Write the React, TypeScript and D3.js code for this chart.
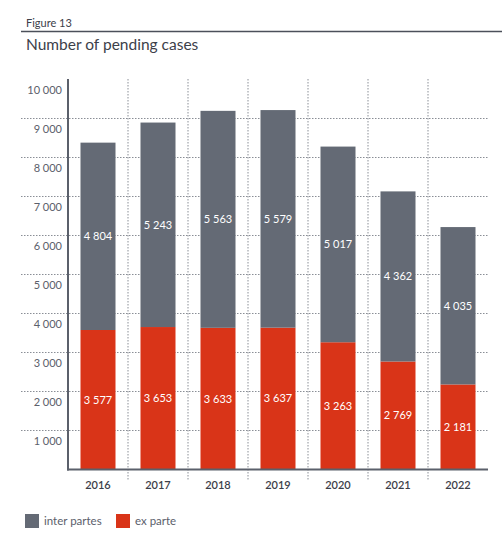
import { useEffect, useRef } from 'react';
import * as d3 from 'd3';

const years = ['2016', '2017', '2018', '2019', '2020', '2021', '2022'];
const exParte = [3577, 3653, 3633, 3637, 3263, 2769, 2181];
const interPartes = [4804, 5243, 5563, 5579, 5017, 4362, 4035];
const yTicks = [1000, 2000, 3000, 4000, 5000, 6000, 7000, 8000, 9000, 10000];

const GREY = '#646a75';
const RED = '#d93418';
const TEXT = '#5b606b';
const FONT = 'Lato, "Open Sans", sans-serif';

const WIDTH = 502;
const HEIGHT = 551;

export default function App() {
    const svgRef = useRef<SVGSVGElement>(null);

    useEffect(() => {
        if (!svgRef.current) return;
        const svg = d3.select(svgRef.current);
        svg.selectAll('*').remove();

        const fmt = d3.formatLocale({ decimal: '.', thousands: '\u00a0', grouping: [3], currency: ['', ''] }).format(',d');

        const x = d3.scaleBand<string>().domain(years).range([68, 488]).paddingInner(25 / 60).paddingOuter(12.5 / 60);
        const y = d3.scaleLinear().domain([0, 10000]).range([469.5, 79.5]);

        // header
        svg.append('text').attr('x', 26).attr('y', 27).attr('font-size', 11).attr('fill', '#3c4049').text('Figure 13');
        svg.append('line').attr('x1', 21).attr('x2', WIDTH).attr('y1', 31.5).attr('y2', 31.5)
            .attr('stroke', '#4b505a').attr('stroke-width', 1.5);
        svg.append('text').attr('x', 26).attr('y', 50).attr('font-size', 15.5).attr('fill', '#3c4049')
            .text('Number of pending cases');

        // horizontal grid
        svg.append('g').selectAll('line').data(yTicks.filter((t) => t < 10000)).enter().append('line')
            .attr('x1', 21).attr('x2', 489)
            .attr('y1', (d) => y(d)).attr('y2', (d) => y(d))
            .attr('stroke', '#8a8e96').attr('stroke-width', 1).attr('stroke-dasharray', '1.5,1.5');

        // vertical separators
        const step = x.step();
        svg.append('g').selectAll('line').data(years.slice(0, -1)).enter().append('line')
            .attr('x1', (d) => (x(d) as number) + x.bandwidth() + (step - x.bandwidth()) / 2)
            .attr('x2', (d) => (x(d) as number) + x.bandwidth() + (step - x.bandwidth()) / 2)
            .attr('y1', 79).attr('y2', 481)
            .attr('stroke', '#8a8e96').attr('stroke-width', 1).attr('stroke-dasharray', '1.5,1.5');

        // tick labels
        svg.append('g').selectAll('text').data(yTicks).enter().append('text')
            .attr('x', 62).attr('y', (d) => y(d) + 14)
            .attr('text-anchor', 'end').attr('font-size', 11).attr('fill', TEXT)
            .text((d) => fmt(d));

        // bars
        const groups = svg.append('g').selectAll('g').data(years).enter().append('g');
        groups.append('rect')
            .attr('x', (d) => x(d) as number).attr('width', x.bandwidth())
            .attr('y', (_, i) => y(exParte[i])).attr('height', (_, i) => y(0) - y(exParte[i]))
            .attr('fill', RED);
        groups.append('rect')
            .attr('x', (d) => x(d) as number).attr('width', x.bandwidth())
            .attr('y', (_, i) => y(exParte[i] + interPartes[i]))
            .attr('height', (_, i) => y(exParte[i]) - y(exParte[i] + interPartes[i]))
            .attr('fill', GREY);

        // value labels
        groups.append('text')
            .attr('x', (d) => (x(d) as number) + x.bandwidth() / 2)
            .attr('y', (_, i) => y(exParte[i] / 2)).attr('dy', '0.35em')
            .attr('text-anchor', 'middle').attr('font-size', 11).attr('fill', 'white')
            .text((_, i) => fmt(exParte[i]));
        groups.append('text')
            .attr('x', (d) => (x(d) as number) + x.bandwidth() / 2)
            .attr('y', (_, i) => y(exParte[i] + interPartes[i] / 2)).attr('dy', '0.35em')
            .attr('text-anchor', 'middle').attr('font-size', 11).attr('fill', 'white')
            .text((_, i) => fmt(interPartes[i]));

        // axes lines
        svg.append('line').attr('x1', 68).attr('x2', 68).attr('y1', 79).attr('y2', 470.5)
            .attr('stroke', '#5b606b').attr('stroke-width', 2);
        svg.append('line').attr('x1', 67).attr('x2', 488).attr('y1', 469.5).attr('y2', 469.5)
            .attr('stroke', '#5b606b').attr('stroke-width', 2);

        // year labels
        svg.append('g').selectAll('text').data(years).enter().append('text')
            .attr('x', (d) => (x(d) as number) + x.bandwidth() / 2).attr('y', 489)
            .attr('text-anchor', 'middle').attr('font-size', 11).attr('font-weight', 600).attr('fill', '#3c4049')
            .text((d) => d);

        // legend
        const legend = [
            { label: 'inter partes', color: GREY, x: 25 },
            { label: 'ex parte', color: RED, x: 116 },
        ];
        const lg = svg.append('g').selectAll('g').data(legend).enter().append('g')
            .attr('transform', (d) => `translate(${d.x},514)`);
        lg.append('rect').attr('width', 14).attr('height', 14).attr('fill', (d) => d.color);
        lg.append('text').attr('x', 19).attr('y', 11).attr('font-size', 11.5).attr('fill', TEXT)
            .text((d) => d.label);
    }, []);

    return (
        <svg
            ref={svgRef}
            width={WIDTH}
            height={HEIGHT}
            style={{ position: 'absolute', left: 0, top: 0, fontFamily: FONT, background: 'white' }}
        ></svg>
    );
}
